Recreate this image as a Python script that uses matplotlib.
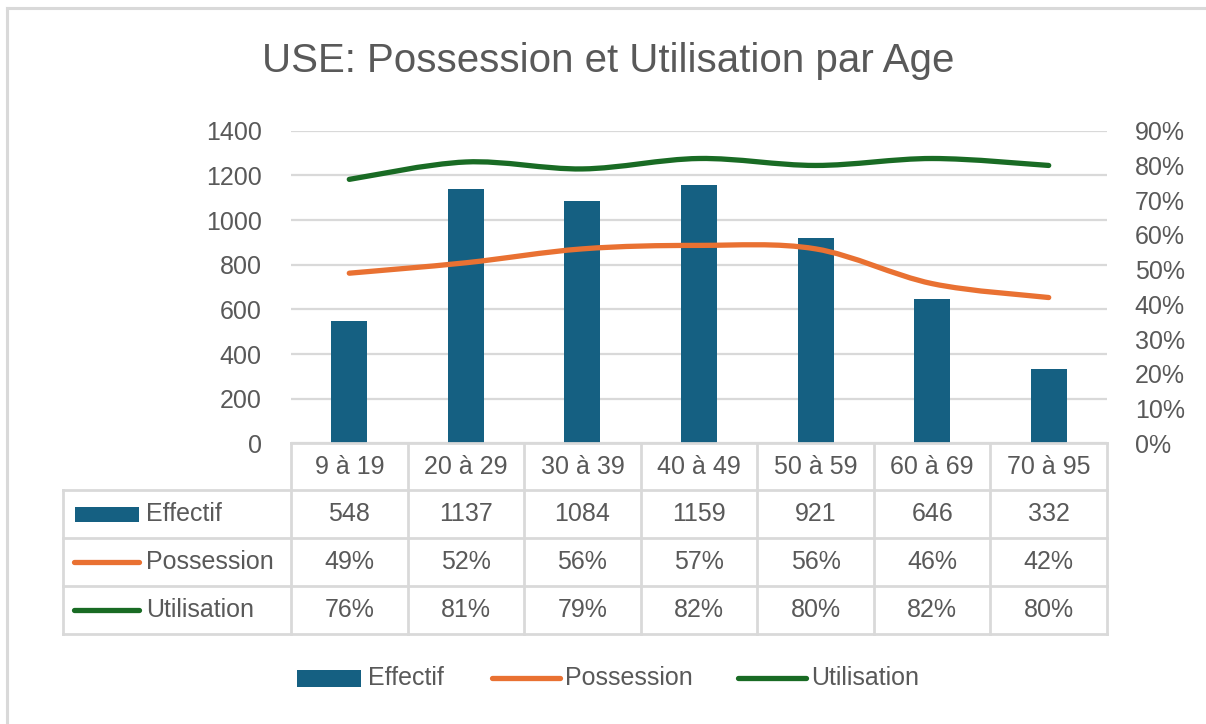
import matplotlib
matplotlib.use("Agg")
import matplotlib.pyplot as plt
from matplotlib.path import Path
from matplotlib.patches import PathPatch, Rectangle
from matplotlib.lines import Line2D
from matplotlib.ticker import FuncFormatter
import matplotlib.transforms as mtransforms

# ---------------- data ----------------
categories = ["9 à 19", "20 à 29", "30 à 39", "40 à 49", "50 à 59", "60 à 69", "70 à 95"]
effectif = [548, 1137, 1084, 1159, 921, 646, 332]
possession = [0.49, 0.52, 0.56, 0.57, 0.56, 0.46, 0.42]
utilisation = [0.76, 0.81, 0.79, 0.82, 0.80, 0.82, 0.80]
series_names = ["Effectif", "Possession", "Utilisation"]
left_ticks = [0, 200, 400, 600, 800, 1000, 1200, 1400]
right_ticks = [0.0, 0.1, 0.2, 0.3, 0.4, 0.5, 0.6, 0.7, 0.8, 0.9]
title = "USE: Possession et Utilisation par Age"

# ---------------- style ----------------
BAR = "#156082"
ORANGE = "#E97132"
GREEN = "#196B24"
TXT = "#595959"
GRID = "#D9D9D9"
FONT = "Liberation Sans"
plt.rcParams["font.family"] = [FONT, "DejaVu Sans"]

W, H = 1206, 724
fig = plt.figure(figsize=(W / 100, H / 100), dpi=100)
fig.patch.set_facecolor("white")

def fx(px):
    return px / W

def fy(py):
    return 1 - py / H

# plot area in pixels
L, R, T, B = 291, 1107, 130.7, 443.5
ax = fig.add_axes([fx(L), fy(B), fx(R - L), (B - T) / H])
x = list(range(len(categories)))
ax.bar(x, effectif, width=0.31, color=BAR, zorder=3)
ax.set_xlim(-0.5, len(categories) - 0.5)
ax.set_ylim(left_ticks[0], left_ticks[-1])
ax.set_yticks(left_ticks)
ax.set_xticks([])
for s in ax.spines.values():
    s.set_visible(False)
ax.grid(axis="y", color=GRID, linewidth=1.6, zorder=0)
ax.set_axisbelow(True)
ax.tick_params(axis="y", length=0, pad=21, labelsize=18, labelcolor=TXT)

ax2 = ax.twinx()
ax2.set_ylim(right_ticks[0], right_ticks[-1])
ax2.set_yticks(right_ticks)
ax2.yaxis.set_major_formatter(FuncFormatter(lambda v, p: f"{round(v * 100)}%"))
for s in ax2.spines.values():
    s.set_visible(False)
ax2.tick_params(axis="y", length=0, pad=20, labelsize=18, labelcolor=TXT)
ax2.patch.set_visible(False)


def smooth_path(xs, ys):
    pts = list(zip(xs, ys))
    n = len(pts)
    verts = [pts[0]]
    codes = [Path.MOVETO]
    for i in range(n - 1):
        p0 = pts[i - 1] if i > 0 else pts[i]
        p1 = pts[i]
        p2 = pts[i + 1]
        p3 = pts[i + 2] if i + 2 < n else pts[i + 1]
        c1 = (p1[0] + (p2[0] - p0[0]) / 6, p1[1] + (p2[1] - p0[1]) / 6)
        c2 = (p2[0] - (p3[0] - p1[0]) / 6, p2[1] - (p3[1] - p1[1]) / 6)
        verts += [c1, c2, p2]
        codes += [Path.CURVE4] * 3
    return Path(verts, codes)


for vals, col in [(possession, ORANGE), (utilisation, GREEN)]:
    patch = PathPatch(smooth_path(x, vals), facecolor="none", edgecolor=col,
                      linewidth=3.8, capstyle="round", joinstyle="round",
                      transform=ax2.transData, zorder=5)
    ax2.add_patch(patch)

# ---------------- title ----------------
fig.text(fx(608), fy(61), title, ha="center", va="center", fontsize=29, color=TXT)

# ---------------- data table ----------------
btr = mtransforms.blended_transform_factory(ax.transData, fig.transFigure)
inv = ax.transData.inverted()
x_left = inv.transform((63, 0))[0]
xr = len(categories) - 0.5
row_y = [443.5, 490, 538, 586, 634]
lkw = dict(color=GRID, linewidth=2, transform=btr, clip_on=False, zorder=1)
# header top line
fig.add_artist(Line2D([-0.5, xr], [fy(row_y[0])] * 2, **lkw))
for yy in row_y[1:]:
    fig.add_artist(Line2D([x_left, xr], [fy(yy)] * 2, **lkw))
for i in range(len(categories) + 1):
    xv = i - 0.5
    fig.add_artist(Line2D([xv, xv], [fy(row_y[0]), fy(row_y[-1])], **lkw))
fig.add_artist(Line2D([x_left, x_left], [fy(row_y[1]), fy(row_y[-1])], **lkw))

tkw = dict(ha="center", va="center", fontsize=18, color=TXT, transform=btr)
for i, c in enumerate(categories):
    fig.text(i, fy((row_y[0] + row_y[1]) / 2), c, **tkw)
    fig.text(i, fy((row_y[1] + row_y[2]) / 2), f"{effectif[i]}", **tkw)
    fig.text(i, fy((row_y[2] + row_y[3]) / 2), f"{round(possession[i] * 100)}%", **tkw)
    fig.text(i, fy((row_y[3] + row_y[4]) / 2), f"{round(utilisation[i] * 100)}%", **tkw)

# row keys
def key_bar(x0, x1, yc, h):
    fig.add_artist(Rectangle((fx(x0), fy(yc + h / 2)), fx(x1 - x0), h / H,
                             facecolor=BAR, edgecolor="none", transform=fig.transFigure))

def key_line(x0, x1, yc, col):
    fig.add_artist(Line2D([fx(x0), fx(x1)], [fy(yc), fy(yc)], color=col, linewidth=3.8,
                          solid_capstyle="round", transform=fig.transFigure))

ry = [(row_y[1] + row_y[2]) / 2, (row_y[2] + row_y[3]) / 2, (row_y[3] + row_y[4]) / 2]
key_bar(75, 139, ry[0], 15)
key_line(74, 139, ry[1], ORANGE)
key_line(74, 139, ry[2], GREEN)
for yy, name in zip(ry, series_names):
    fig.text(fx(146), fy(yy), name, ha="left", va="center", fontsize=18, color=TXT)

# ---------------- legend ----------------
ly = 678
key_bar(297, 361, ly, 17)
fig.text(fx(368), fy(ly), series_names[0], ha="left", va="center", fontsize=18, color=TXT)
key_line(492, 560, ly, ORANGE)
fig.text(fx(565), fy(ly), series_names[1], ha="left", va="center", fontsize=18, color=TXT)
key_line(738, 806, ly, GREEN)
fig.text(fx(811), fy(ly), series_names[2], ha="left", va="center", fontsize=18, color=TXT)

# ---------------- outer border ----------------
fig.add_artist(Line2D([fx(7), fx(7)], [fy(7.5), 0], color=GRID, linewidth=2.2,
                      transform=fig.transFigure))
fig.add_artist(Line2D([fx(7), 1], [fy(7.5), fy(7.5)], color=GRID, linewidth=2.2,
                      transform=fig.transFigure))

fig.savefig("out.png", dpi=100, facecolor="white")
